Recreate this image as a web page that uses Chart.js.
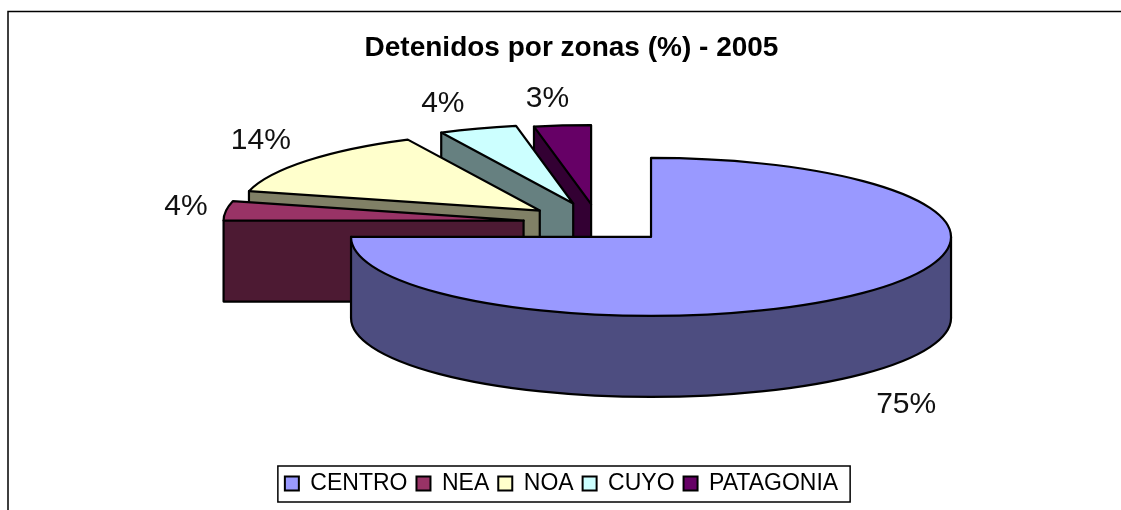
<!DOCTYPE html>
<html><head><meta charset="utf-8">
<style>html,body{margin:0;padding:0;background:#fff}canvas{display:block}</style>
<script src="https://cdn.jsdelivr.net/npm/chart.js@4"></script></head>
<body><canvas id="c" width="1121" height="510"></canvas>
<script>
const categories = ['CENTRO','NEA','NOA','CUYO','PATAGONIA'];
const values = [75,3.95,13.8,4.2,3.05];
const topColors = ['#9999FF','#993366','#FFFFCC','#CCFFFF','#660066'];
const wallColors = ['#4D4D80','#4D1A33','#808066','#668080','#330033'];
const explode = [75,75,75,78,72];
const labelDx = [43,-40,-46,-35,-15];
const labelDy = [31,-4,-20,-25,-27];
const chartTitle = 'Detenidos por zonas (%) - 2005';
const FONT = "'Liberation Sans', Arial, sans-serif";
const cx = 598, cy = 223, squash = 79/300, depth = 81, radius = 300;

function withColor(el, color, fn){
  const saved = el.options;
  el.options = Object.assign({}, saved, {backgroundColor: color});
  fn(); el.options = saved;
}
const pie3d = {
  id:'pie3d',
  afterLayout(chart){ const t = chart.titleBlock; t.left += 10; t.right += 10; },
  beforeDraw(chart){
    const ctx = chart.ctx;
    ctx.save(); ctx.strokeStyle='#000'; ctx.lineWidth=1.5;
    ctx.beginPath(); ctx.moveTo(8,510); ctx.lineTo(8,11.5); ctx.lineTo(1121,11.5); ctx.stroke();
    ctx.restore();
  },
  beforeDatasetDraw(chart,args){
    const ctx = chart.ctx, arcs = args.meta.data;
    ctx.save(); ctx.lineJoin='round'; ctx.lineCap='round'; ctx.lineWidth=2.2; ctx.strokeStyle='#000';
    for (let i = arcs.length-1; i>=0; i--){
      const el = arcs[i], s = el.startAngle, e = el.endAngle, mid=(s+e)/2, R = el.outerRadius;
      const tx = cx+Math.cos(mid)*explode[i], ty = cy+Math.sin(mid)*explode[i]*squash;
      const place = y=>{ ctx.save(); ctx.translate(tx,ty+y); ctx.scale(1,squash); ctx.translate(-el.x,-el.y); el.draw(ctx); ctx.restore(); };
      const pt = a=>[tx+Math.cos(a)*R, ty+Math.sin(a)*R*squash];
      withColor(el, wallColors[i], ()=>{ for(let y=depth;y>0;y-=1) place(y); });
      ctx.fillStyle = wallColors[i];
      const a = Math.max(s,0), b = Math.min(e,Math.PI);
      if (b>a){
        ctx.beginPath();
        ctx.ellipse(tx,ty,R,R*squash,0,a,b);
        ctx.ellipse(tx,ty+depth,R,R*squash,0,b,a,true);
        ctx.closePath(); ctx.fill();
        ctx.beginPath(); ctx.ellipse(tx,ty+depth,R,R*squash,0,a,b); ctx.stroke();
        if (a===0){ const p=pt(0); ctx.beginPath(); ctx.moveTo(p[0],p[1]); ctx.lineTo(p[0],p[1]+depth); ctx.stroke(); }
        if (b===Math.PI){ const p=pt(Math.PI); ctx.beginPath(); ctx.moveTo(p[0],p[1]); ctx.lineTo(p[0],p[1]+depth); ctx.stroke(); }
      }
      if (-Math.cos(s) > 1e-6){
        const p=pt(s);
        ctx.beginPath(); ctx.moveTo(tx,ty); ctx.lineTo(tx,ty+depth); ctx.lineTo(p[0],p[1]+depth); ctx.lineTo(p[0],p[1]); ctx.closePath(); ctx.fill();
        ctx.beginPath(); ctx.moveTo(tx,ty); ctx.lineTo(tx,ty+depth); ctx.lineTo(p[0],p[1]+depth); ctx.lineTo(p[0],p[1]); ctx.stroke();
      }
      place(0);
      ctx.beginPath(); ctx.moveTo(tx,ty); ctx.ellipse(tx,ty,R,R*squash,0,s,e); ctx.closePath(); ctx.stroke();
    }
    ctx.restore();
    return false;
  },
  afterDraw(chart){
    const ctx = chart.ctx, arcs = chart.getDatasetMeta(0).data;
    ctx.save();
    ctx.fillStyle='#111'; ctx.font='30px '+FONT; ctx.textAlign='center'; ctx.textBaseline='middle';
    arcs.forEach((el,i)=>{
      const mid=(el.startAngle+el.endAngle)/2, R=el.outerRadius;
      const front = Math.sin(mid)>0 ? depth : 0;
      const x = cx+Math.cos(mid)*(explode[i]+R)+labelDx[i];
      const y = cy+Math.sin(mid)*(explode[i]+R)*squash+front+labelDy[i];
      ctx.fillText(Math.round(values[i])+'%',x,y);
    });
    const hb = chart.legend.legendHitBoxes;
    const l = Math.min(...hb.map(h=>h.left))-7, r = Math.max(...hb.map(h=>h.left+h.width))+12;
    const t = hb[0].top-6, bt = hb[0].top+hb[0].height+7;
    ctx.strokeStyle='#000'; ctx.lineWidth=1.5;
    ctx.strokeRect(l,t,r-l,bt-t);
    ctx.restore();
  }
};
new Chart(document.getElementById('c'),{
  type:'pie',
  data:{labels:categories,datasets:[{data:values,backgroundColor:topColors,borderWidth:0,radius:radius}]},
  plugins:[pie3d],
  options:{
    responsive:false,animation:false,
    layout:{padding:{left:2,right:0,top:0,bottom:5}},
    plugins:{
      tooltip:{enabled:false},
      title:{display:true,text:chartTitle,color:'#000',font:{family:FONT,size:28,weight:'bold'},padding:{top:31,bottom:0}},
      legend:{position:'bottom',labels:{color:'#000',font:{family:FONT,size:23},boxWidth:14,boxHeight:14,padding:9,
        generateLabels(chart){return chart.data.labels.map((t,i)=>({text:t,fillStyle:topColors[i],strokeStyle:'#000',lineWidth:2,hidden:false,index:i,fontColor:'#000'}));}}}
    }
  }
});
</script></body></html>
